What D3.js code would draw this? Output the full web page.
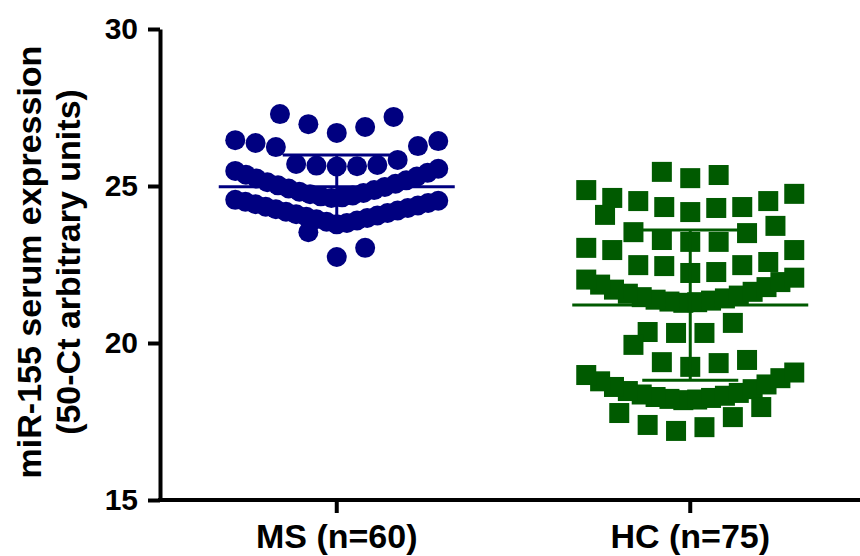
<!DOCTYPE html>
<html>
<head>
<meta charset="utf-8">
<style>
html, body { margin: 0; padding: 0; background: #fff; }
text { font-family: "Liberation Sans", Arial, sans-serif; font-weight: bold; fill: #000; }
</style>
<script src="https://cdn.jsdelivr.net/npm/d3@7"></script>
</head>
<body>
<script>
var categories = ["MS (n=60)", "HC (n=75)"];
var yTicks = [15, 20, 25, 30];

// miR-155 values, one entry per subject
var msValues = [
  26.69, 26.88, 26.97, 27.20, 27.29,
  25.62, 25.63, 25.65, 25.67, 25.70, 25.83, 26.24, 26.27, 26.37, 26.43, 26.46,
  24.62, 24.64, 24.67, 24.70, 24.74, 24.78, 24.82, 24.87, 24.92, 24.97,
  25.02, 25.07, 25.12, 25.18, 25.24, 25.30, 25.36, 25.42, 25.48, 25.55,
  23.78, 23.82, 23.86, 23.90, 23.94, 23.98, 24.02, 24.06, 24.10, 24.14, 24.18,
  24.22, 24.26, 24.30, 24.34, 24.38, 24.42, 24.46, 24.50, 24.53, 24.56,
  22.74, 23.03, 23.53
];
var hcValues = [
  25.25, 25.35, 25.45,
  24.17, 24.30, 24.33, 24.33, 24.52, 24.52, 24.62, 24.75, 24.87,
  23.22, 23.22, 23.28, 23.50, 23.53, 23.73, 24.08,
  22.23, 22.26, 22.45, 22.48, 22.48, 22.58, 22.96, 22.96, 23.03,
  21.28, 21.30, 21.32, 21.35, 21.38, 21.42, 21.46, 21.51,
  21.57, 21.63, 21.70, 21.78, 21.86, 21.94, 22.02, 22.08,
  20.32, 20.32, 20.35, 20.64,
  19.24, 19.36, 19.39, 19.46, 19.94,
  18.18, 18.20, 18.22, 18.25, 18.28, 18.32, 18.36, 18.41,
  18.47, 18.53, 18.60, 18.68, 18.78, 18.88, 18.98, 19.06,
  17.20, 17.32, 17.39, 17.64, 17.77, 17.96
];

var W = 860, H = 556;
var svg = d3.select("body").append("svg")
  .attr("width", W)
  .attr("height", H);

var y = d3.scaleLinear().domain([15, 30]).range([500, 29]);
var x = d3.scalePoint().domain(categories).range([160, 867]).padding(0.5);

// prism-like scatter: bin the values, spread each bin sideways from the centre
var spread = function(values, origin, binWidth, maxStep, maxWidth) {
  var pts = [];
  d3.groups(values, function(v) { return Math.floor((v - origin) / binWidth); })
    .forEach(function(g) {
      var vals = g[1].slice().sort(d3.ascending);
      var n = vals.length;
      var step = n > 1 ? Math.min(maxStep, maxWidth / (n - 1)) : 0;
      vals.forEach(function(v, i) {
        var off;
        if (n % 2) {
          off = i === 0 ? 0 : (i % 2 ? 1 : -1) * Math.ceil(i / 2);
        } else {
          off = (i % 2 ? 1 : -1) * (Math.floor(i / 2) + 0.5);
        }
        pts.push({ v: v, dx: off * step });
      });
    });
  return pts;
};

var groups = [
  { name: categories[0], values: msValues, color: "#000080", shape: "circle", origin: 22.6, cap: 54 },
  { name: categories[1], values: hcValues, color: "#005a00", shape: "square", origin: 17.1, cap: 48 }
];

groups.forEach(function(g) {
  var cx = x(g.name);
  var pts = spread(g.values, g.origin, 1.0, 28.4, g.shape === "circle" ? 203 : 208);
  var layer = svg.append("g");

  if (g.shape === "circle") {
    layer.selectAll("circle").data(pts).enter().append("circle")
      .attr("cx", function(d) { return cx + d.dx; })
      .attr("cy", function(d) { return y(d.v); })
      .attr("r", 10)
      .attr("fill", g.color);
  } else {
    layer.selectAll("rect").data(pts).enter().append("rect")
      .attr("x", function(d) { return cx + d.dx - 10; })
      .attr("y", function(d) { return y(d.v) - 10; })
      .attr("width", 20)
      .attr("height", 20)
      .attr("fill", g.color);
  }

  var m = d3.mean(g.values);
  var sd = d3.deviation(g.values);
  var bars = svg.append("g").attr("stroke", g.color).attr("stroke-width", 3);
  bars.append("line")
    .attr("x1", cx - 118).attr("x2", cx + 118)
    .attr("y1", y(m)).attr("y2", y(m));
  bars.append("line")
    .attr("x1", cx).attr("x2", cx)
    .attr("y1", y(m + sd)).attr("y2", y(m - sd));
  [m + sd, m - sd].forEach(function(v) {
    bars.append("line")
      .attr("x1", cx - g.cap).attr("x2", cx + g.cap)
      .attr("y1", y(v)).attr("y2", y(v));
  });
});

// y axis
var yAxis = svg.append("g")
  .attr("transform", "translate(160,0)")
  .call(d3.axisLeft(y).tickValues(yTicks).tickSize(12).tickSizeOuter(0).tickPadding(10));
yAxis.select(".domain").attr("stroke-width", 4).attr("stroke", "#000");
yAxis.selectAll(".tick line").attr("stroke-width", 4).attr("stroke", "#000");
yAxis.selectAll(".tick text")
  .style("font-size", "30px")
  .style("font-family", "'Liberation Sans', Arial, sans-serif")
  .style("font-weight", "bold");

// x axis
var xAxis = svg.append("g")
  .attr("transform", "translate(0,500)");
xAxis.append("line")
  .attr("x1", 158).attr("x2", 860)
  .attr("stroke", "#000").attr("stroke-width", 4);
xAxis.selectAll(".xtick").data(categories).enter().append("line")
  .attr("x1", function(d) { return x(d); })
  .attr("x2", function(d) { return x(d); })
  .attr("y1", 0).attr("y2", 13)
  .attr("stroke", "#000").attr("stroke-width", 4);
xAxis.selectAll(".xlabel").data(categories).enter().append("text")
  .attr("x", function(d) { return x(d); })
  .attr("y", 48)
  .attr("text-anchor", "middle")
  .style("font-size", "34px")
  .text(function(d) { return d; });

// y title
var title = svg.append("text")
  .attr("transform", "translate(0,262) rotate(-90)")
  .attr("text-anchor", "middle")
  .style("font-size", "34px");
title.append("tspan").attr("x", 0).attr("y", 41).text("miR-155 serum expression");
title.append("tspan").attr("x", 0).attr("y", 80).text("(50-Ct arbitrary units)");
</script>
</body>
</html>
